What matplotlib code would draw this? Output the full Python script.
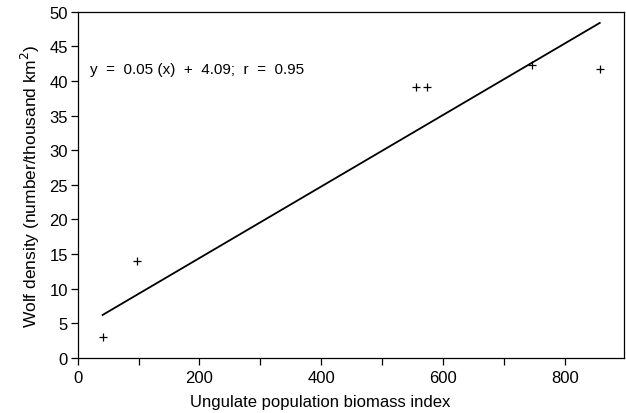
import numpy as np
import matplotlib.pyplot as plt
from matplotlib.ticker import MultipleLocator

# values
biomass = [41, 97, 556, 574, 746, 857]
wolf_density = [3.0, 14.0, 39.1, 39.1, 42.3, 41.8]

# regression line as drawn in the figure
slope = 0.0517
intercept = 4.09
equation = "y  =  0.05 (x)  +  4.09;  r  =  0.95"

plt.rcParams['font.family'] = ['Liberation Sans', 'DejaVu Sans']

fig = plt.figure(figsize=(6.26, 4.14), dpi=100)
ax = fig.add_axes([0.124, 0.133, 0.873, 0.836])

x_fit = np.array([min(biomass), max(biomass)])
ax.plot(x_fit, slope * x_fit + intercept, color='black', linewidth=1.3)
ax.plot(biomass, wolf_density, linestyle='none', marker='+', markersize=6,
        markeredgewidth=0.9, color='black')

ax.text(20, 41.8, equation, fontsize=11, va='center', ha='left')

ax.set_xlim(0, 897)
ax.set_ylim(0, 50)
ax.xaxis.set_major_locator(MultipleLocator(200))
ax.xaxis.set_minor_locator(MultipleLocator(100))
ax.yaxis.set_major_locator(MultipleLocator(5))
ax.tick_params(axis='both', which='both', direction='out', labelsize=12, width=0.9)
ax.tick_params(axis='both', which='major', length=5)
ax.tick_params(axis='x', which='minor', length=5)
ax.tick_params(axis='x', which='major', pad=4)
ax.tick_params(axis='y', which='major', pad=2)

for spine in ax.spines.values():
    spine.set_linewidth(0.9)

ax.set_xlabel("Ungulate population biomass index", fontsize=12)
ax.xaxis.set_label_coords(0.443, -0.125)
ax.xaxis.label.set_va('center')
ax.set_ylabel("Wolf density (number/thousand km$^{2}$)", fontsize=12.5, labelpad=5)

fig.savefig("out.png", dpi=100)
